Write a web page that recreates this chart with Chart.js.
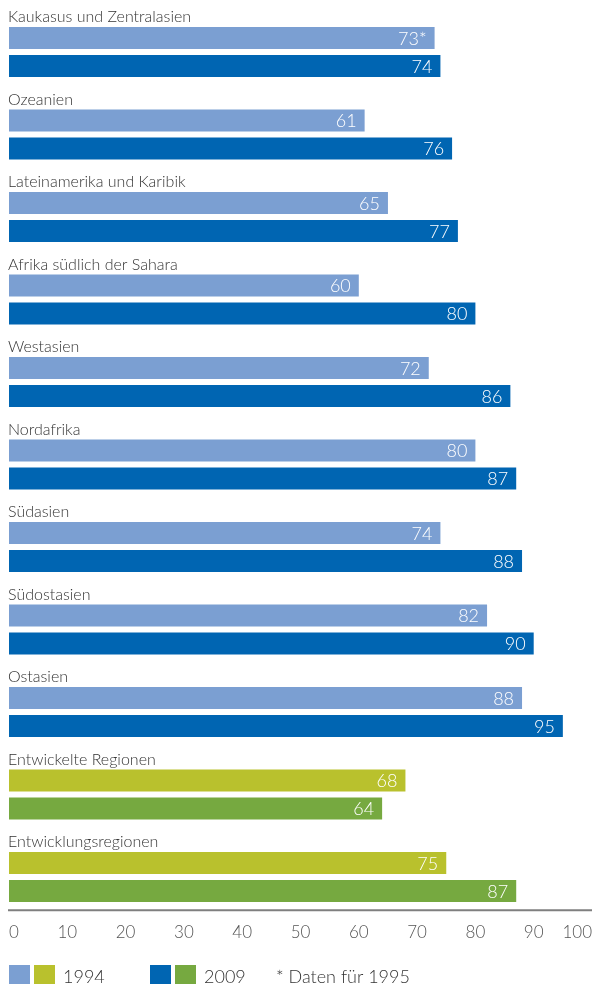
<!DOCTYPE html>
<html lang="de">
<head>
<meta charset="utf-8">
<title>Regionen 1994 und 2009</title>
<script src="https://cdn.jsdelivr.net/npm/chart.js@4/dist/chart.umd.min.js"></script>
<style>
  html, body { margin: 0; padding: 0; background: #fff; }
  #wrap { position: relative; width: 593px; height: 987px; }
</style>
</head>
<body>
<div id="wrap"><canvas id="chart"></canvas></div>
<script>
// Regions, in drawing order
const categories = [
  "Kaukasus und Zentralasien",
  "Ozeanien",
  "Lateinamerika und Karibik",
  "Afrika südlich der Sahara",
  "Westasien",
  "Nordafrika",
  "Südasien",
  "Südostasien",
  "Ostasien",
  "Entwickelte Regionen",
  "Entwicklungsregionen"
];
const values1994 = [73, 61, 65, 60, 72, 80, 74, 82, 88, 68, 75];
const values2009 = [74, 76, 77, 80, 86, 87, 88, 90, 95, 64, 87];
// footnote markers appended to the value labels
const notes1994 = ["*", "", "", "", "", "", "", "", "", "", ""];
const notes2009 = ["", "", "", "", "", "", "", "", "", "", ""];
const xTicks = [0, 10, 20, 30, 40, 50, 60, 70, 80, 90, 100];
const legendYears = ["1994", "2009"];
const footnote = "* Daten für 1995";

const FONT = "Lato, 'Open Sans', sans-serif";
const C1994 = "#7b9fd2", C2009 = "#0065b2";
const G1994 = "#b9c12d", G2009 = "#76a940";
const groupStart = 9; // the last two rows are region aggregates
const colors1994 = categories.map((_, i) => i < groupStart ? C1994 : G1994);
const colors2009 = categories.map((_, i) => i < groupStart ? C2009 : G2009);

const overlay = {
  id: "overlay",
  afterDatasetsDraw(chart) {
    const ctx = chart.ctx;
    const area = chart.chartArea;
    const m0 = chart.getDatasetMeta(0), m1 = chart.getDatasetMeta(1);
    ctx.save();
    // region names above each pair of bars
    ctx.font = "300 16px " + FONT;
    ctx.fillStyle = "#333";
    ctx.textAlign = "left";
    ctx.textBaseline = "alphabetic";
    m0.data.forEach((bar, i) => {
      const top = bar.y - bar.height / 2;
      ctx.fillText(categories[i], 8, top - 5);
    });
    // values inside the bar ends
    ctx.font = "300 18px " + FONT;
    ctx.fillStyle = "#fff";
    ctx.textAlign = "right";
    ctx.textBaseline = "middle";
    [[m0, values1994, notes1994], [m1, values2009, notes2009]].forEach(([meta, vals, notes]) => {
      meta.data.forEach((bar, i) => {
        ctx.fillText(vals[i] + notes[i], bar.x - 8, bar.y + 1);
      });
    });
    // axis line
    const xs = chart.scales.x;
    ctx.strokeStyle = "#7f7f7f";
    ctx.lineWidth = 2;
    ctx.beginPath();
    ctx.moveTo(xs.getPixelForValue(0) - 1, area.bottom - 8);
    ctx.lineTo(xs.getPixelForValue(100), area.bottom - 8);
    ctx.stroke();
    // legend
    const ly = 965, sh = 19, sw = 21;
    const items = [
      { x: 9, cols: [C1994, G1994], label: legendYears[0] },
      { x: 150, cols: [C2009, G2009], label: legendYears[1] }
    ];
    ctx.font = "300 18px " + FONT;
    ctx.textAlign = "left";
    ctx.textBaseline = "alphabetic";
    items.forEach(it => {
      ctx.fillStyle = it.cols[0];
      ctx.fillRect(it.x, ly, sw, sh);
      ctx.fillStyle = it.cols[1];
      ctx.fillRect(it.x + 25, ly, sw, sh);
      ctx.fillStyle = "#333";
      ctx.fillText(it.label, it.x + 54, ly + 18);
    });
    ctx.fillText(footnote, 276, ly + 18);
    ctx.restore();
  }
};

new Chart(document.getElementById("chart"), {
  type: "bar",
  data: {
    labels: categories,
    datasets: [
      { label: legendYears[0], data: values1994, backgroundColor: colors1994 },
      { label: legendYears[1], data: values2009, backgroundColor: colors2009 }
    ]
  },
  options: {
    indexAxis: "y",
    responsive: true,
    maintainAspectRatio: false,
    animation: false,
    categoryPercentage: 56 / 82.5,
    barPercentage: 22 / 28,
    layout: { padding: { top: 10.75, left: 9, right: 1, bottom: 38.75 } },
    plugins: { legend: { display: false }, tooltip: { enabled: false } },
    scales: {
      y: { display: false },
      x: {
        min: 0,
        max: 100,
        afterBuildTicks: s => { s.ticks = xTicks.map(v => ({ value: v })); },
        afterFit: s => { s.height = 30; s.paddingLeft = 0; s.paddingRight = 0; },
        grid: { display: false, drawTicks: false },
        border: { display: false },
        ticks: {
          align: "inner",
          padding: 4,
          color: "#555",
          font: { family: FONT, size: 17, weight: 300 }
        }
      }
    }
  },
  plugins: [overlay]
});
</script>
</body>
</html>
